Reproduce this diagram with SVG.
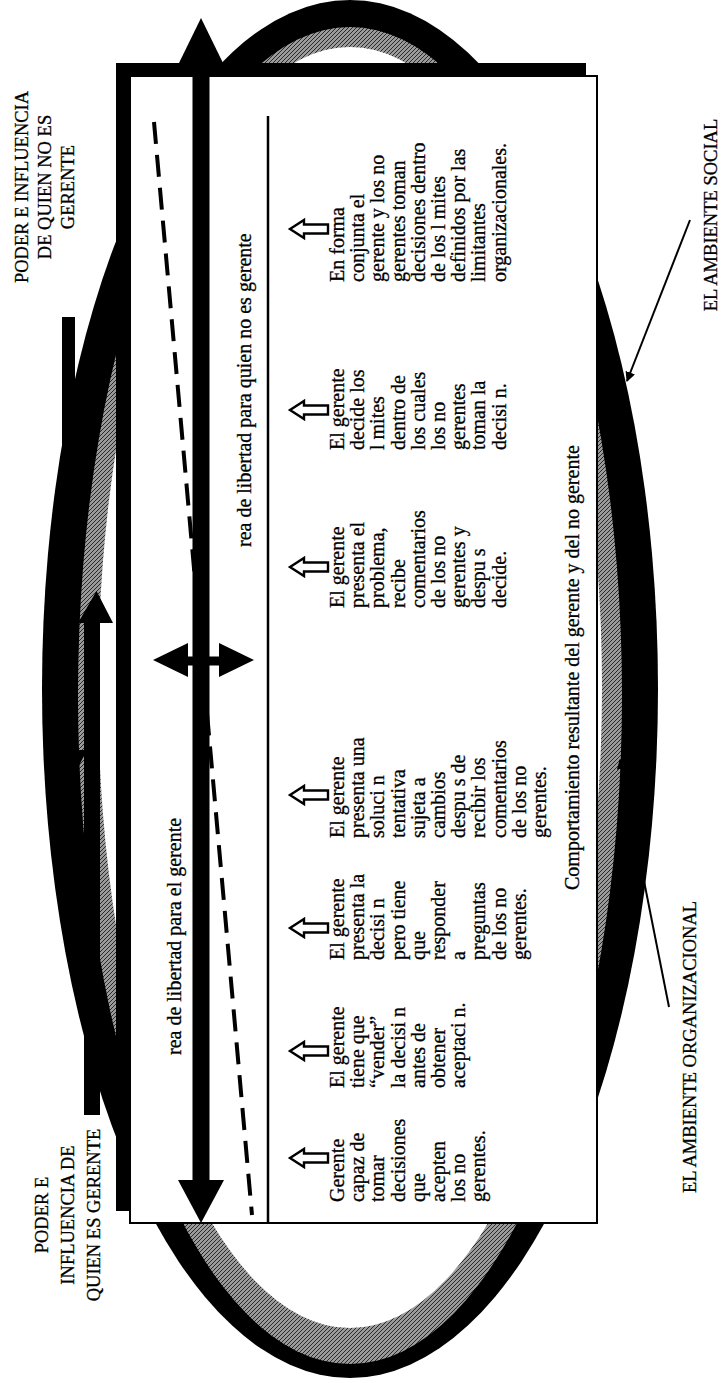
<svg xmlns="http://www.w3.org/2000/svg" xmlns:xlink="http://www.w3.org/1999/xlink" width="723" height="1383" viewBox="0 0 723 1383">
<style>
.t{font-family:"Liberation Serif","Times New Roman",serif;font-size:20px;fill:#000;stroke:#000;stroke-width:0.3}
.cap{font-family:"Liberation Serif","Times New Roman",serif;font-size:18.5px;fill:#000;stroke:#000;stroke-width:0.3}
.blk{fill:#000}
.ptr{stroke:#000;stroke-width:2;fill:none}
</style>
<defs>
<pattern id="hatch" width="4" height="4" patternUnits="userSpaceOnUse">
<rect width="4" height="4" fill="#9a9a9a"/>
<path d="M-1,1 L1,-1 M0,4 L4,0 M3,5 L5,3" stroke="#2a2a2a" stroke-width="1"/>
</pattern>
<path id="blkarrow" d="M0,0 L14,-9 L14,-4.5 L38,-4.5 L38,4.5 L14,4.5 L14,9 Z" fill="#fff" stroke="#000" stroke-width="2.4"/>
<marker id="tip" viewBox="0 0 10 10" refX="9" refY="5" markerWidth="5" markerHeight="5" orient="auto">
<path d="M0,0 L10,5 L0,10 Z" fill="#000"/>
</marker>
</defs>

<g id="environment">
<ellipse id="ambiente-social" cx="350" cy="689" rx="308" ry="689" fill="#000"/>
<ellipse id="ambiente-organizacional" cx="350" cy="695.5" rx="272" ry="668.5" fill="url(#hatch)"/>
<ellipse cx="350" cy="687.5" rx="252" ry="640.5" fill="#fff"/>
</g>

<g id="power-arrows">
<g id="poder-no-gerente">
<rect class="blk" x="62" y="317" width="13" height="435"/>
<polygon class="blk" points="50,750 87,750 68.5,786"/>
</g>
<g id="poder-gerente">
<rect class="blk" x="84" y="621" width="16" height="494"/>
<polygon class="blk" points="96.5,591 113,623 78,623"/>
</g>
</g>

<g id="continuum-box">
<rect class="blk" x="116" y="63" width="470" height="1148"/>
<rect x="130" y="76" width="467" height="1147" fill="#fff" stroke="#000" stroke-width="2"/>
<line x1="268" y1="116" x2="268" y2="1223" stroke="#000" stroke-width="2.5"/>
<line x1="154" y1="122" x2="252" y2="1215" stroke="#000" stroke-width="4" stroke-dasharray="22 11"/>
</g>

<g id="connectors">
<g id="libertad-arrow">
<rect class="blk" x="192.5" y="60" width="17" height="1122"/>
<polygon class="blk" points="201,18 223,63 179,63"/>
<polygon class="blk" points="201,1223 224,1180 178,1180"/>
</g>
<g id="cambio-arrow">
<rect class="blk" x="186" y="656.5" width="35" height="9"/>
<polygon class="blk" points="153,660 188,643 188,677"/>
<polygon class="blk" points="254,660 219,643 219,677"/>
</g>
<line class="ptr" x1="690" y1="220" x2="627" y2="381" marker-end="url(#tip)"/>
<line class="ptr" x1="669" y1="1007" x2="620" y2="760" marker-end="url(#tip)"/>
</g>

<g id="area-labels">
<text class="t" transform="translate(181,1055) rotate(-90)">rea de libertad para el gerente</text>
<text class="t" transform="translate(251,547) rotate(-90)">rea de libertad para quien no es gerente</text>
<text class="t" transform="translate(579,890) rotate(-90)">Comportamiento resultante del gerente y del no gerente</text>
</g>

<g id="col1">
<use href="#blkarrow" x="290" y="1158"/>
<text class="t" transform="translate(344,1202) rotate(-90)"><tspan x="0" y="0">Gerente</tspan><tspan x="0" dy="20.2">capaz de</tspan><tspan x="0" dy="20.2">tomar</tspan><tspan x="0" dy="20.2">decisiones</tspan><tspan x="0" dy="20.2">que</tspan><tspan x="0" dy="20.2">acepten</tspan><tspan x="0" dy="20.2">los no</tspan><tspan x="0" dy="20.2">gerentes.</tspan></text>
</g>
<g id="col2">
<use href="#blkarrow" x="290" y="1051"/>
<text class="t" transform="translate(344,1088) rotate(-90)"><tspan x="0" y="0">El gerente</tspan><tspan x="0" dy="20.2">tiene que</tspan><tspan x="0" dy="20.2">“vender”</tspan><tspan x="0" dy="20.2">la decisi  n</tspan><tspan x="0" dy="20.2">antes de</tspan><tspan x="0" dy="20.2">obtener</tspan><tspan x="0" dy="20.2">aceptaci  n.</tspan></text>
</g>
<g id="col3">
<use href="#blkarrow" x="290" y="928"/>
<text class="t" transform="translate(344,960) rotate(-90)"><tspan x="0" y="0">El gerente</tspan><tspan x="0" dy="20.2">presenta la</tspan><tspan x="0" dy="20.2">decisi  n</tspan><tspan x="0" dy="20.2">pero tiene</tspan><tspan x="0" dy="20.2">que</tspan><tspan x="0" dy="20.2">responder</tspan><tspan x="0" dy="20.2">a</tspan><tspan x="0" dy="20.2">preguntas</tspan><tspan x="0" dy="20.2">de los no</tspan><tspan x="0" dy="20.2">gerentes.</tspan></text>
</g>
<g id="col4">
<use href="#blkarrow" x="290" y="795"/>
<text class="t" transform="translate(344,838) rotate(-90)"><tspan x="0" y="0">El gerente</tspan><tspan x="0" dy="20.2">presenta una</tspan><tspan x="0" dy="20.2">soluci  n</tspan><tspan x="0" dy="20.2">tentativa</tspan><tspan x="0" dy="20.2">sujeta a</tspan><tspan x="0" dy="20.2">cambios</tspan><tspan x="0" dy="20.2">despu  s de</tspan><tspan x="0" dy="20.2">recibir los</tspan><tspan x="0" dy="20.2">comentarios</tspan><tspan x="0" dy="20.2">de los no</tspan><tspan x="0" dy="20.2">gerentes.</tspan></text>
</g>
<g id="col5">
<use href="#blkarrow" x="290" y="567"/>
<text class="t" transform="translate(344,608) rotate(-90)"><tspan x="0" y="0">El gerente</tspan><tspan x="0" dy="20.2">presenta el</tspan><tspan x="0" dy="20.2">problema,</tspan><tspan x="0" dy="20.2">recibe</tspan><tspan x="0" dy="20.2">comentarios</tspan><tspan x="0" dy="20.2">de los no</tspan><tspan x="0" dy="20.2">gerentes y</tspan><tspan x="0" dy="20.2">despu  s</tspan><tspan x="0" dy="20.2">decide.</tspan></text>
</g>
<g id="col6">
<use href="#blkarrow" x="290" y="410"/>
<text class="t" transform="translate(344,450) rotate(-90)"><tspan x="0" y="0">El gerente</tspan><tspan x="0" dy="20.2">decide los</tspan><tspan x="0" dy="20.2">l mites</tspan><tspan x="0" dy="20.2">dentro de</tspan><tspan x="0" dy="20.2">los cuales</tspan><tspan x="0" dy="20.2">los no</tspan><tspan x="0" dy="20.2">gerentes</tspan><tspan x="0" dy="20.2">toman la</tspan><tspan x="0" dy="20.2">decisi  n.</tspan></text>
</g>
<g id="col7">
<use href="#blkarrow" x="290" y="229"/>
<text class="t" transform="translate(344,282) rotate(-90)"><tspan x="0" y="0">En forma</tspan><tspan x="0" dy="20.2">conjunta el</tspan><tspan x="0" dy="20.2">gerente y los no</tspan><tspan x="0" dy="20.2">gerentes toman</tspan><tspan x="0" dy="20.2">decisiones dentro</tspan><tspan x="0" dy="20.2">de los l mites</tspan><tspan x="0" dy="20.2">definidos por las</tspan><tspan x="0" dy="20.2">limitantes</tspan><tspan x="0" dy="20.2">organizacionales.</tspan></text>
</g>

<g id="outer-labels">
<text class="cap" text-anchor="middle" transform="translate(0,187) rotate(-90)"><tspan x="0" y="28">PODER E INFLUENCIA</tspan><tspan x="0" y="51">DE QUIEN NO ES</tspan><tspan x="0" y="74">GERENTE</tspan></text>
<text class="cap" text-anchor="middle" transform="translate(0,1215) rotate(-90)"><tspan x="0" y="48">PODER E</tspan><tspan x="0" y="74">INFLUENCIA DE</tspan><tspan x="0" y="100">QUIEN ES GERENTE</tspan></text>
<text class="cap" text-anchor="middle" transform="translate(717,215) rotate(-90)">EL AMBIENTE SOCIAL</text>
<text class="cap" text-anchor="middle" transform="translate(696,1047) rotate(-90)">EL AMBIENTE ORGANIZACIONAL</text>
</g>
</svg>
